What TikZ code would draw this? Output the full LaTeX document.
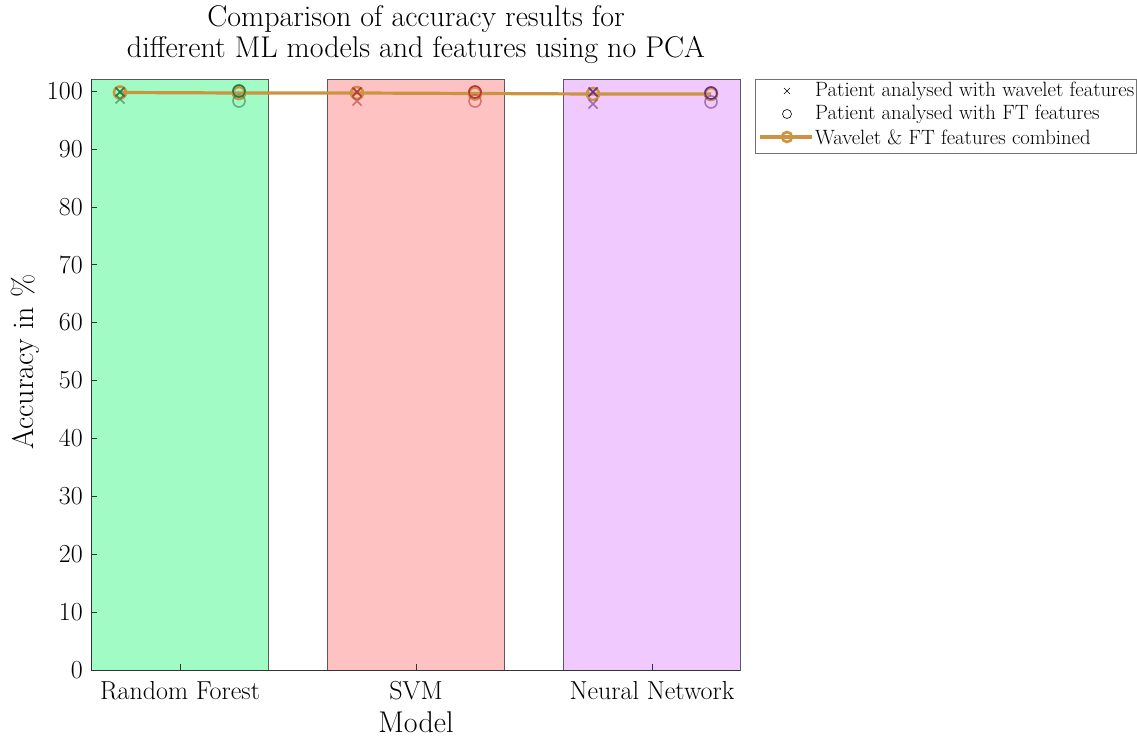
\documentclass[tikz,border=0pt]{standalone}
\usepackage{fontspec}
\definecolor{rfbar}{RGB}{160,251,197}
\definecolor{svmbar}{RGB}{255,194,194}
\definecolor{nnbar}{RGB}{240,202,255}
\definecolor{rfmk}{RGB}{30,125,65}
\definecolor{svmmk}{RGB}{185,50,60}
\definecolor{nnmk}{RGB}{105,45,135}
\definecolor{comb}{RGB}{204,148,64}
\tikzset{
  bar/.style={draw=black!65, line width=0.5pt},
  axis/.style={draw=black!80, line width=0.7pt},
  tickl/.style={font=\fontsize{26}{30}\selectfont, inner sep=0pt},
  axlab/.style={font=\fontsize{30}{31}\selectfont, inner sep=0pt},
  legtxt/.style={font=\fontsize{20.7}{24}\selectfont, anchor=west, inner sep=0pt},
  xmk/.style={line width=1.6pt},
  omk/.style={line width=1.6pt},
  combline/.style={draw=comb, line width=3.2pt},
  combmk/.style={draw=comb, line width=2.6pt},
}
\newcommand{\xmark}[3]{% color, x, y
  \draw[xmk,#1] (#2-4.5,#3-4.5) -- (#2+4.5,#3+4.5) (#2-4.5,#3+4.5) -- (#2+4.5,#3-4.5);}
\begin{document}
\begin{tikzpicture}[x=1pt,y=-1pt]
\useasboundingbox (0,0) rectangle (1137,738);
% bars
\path[bar,fill=rfbar] (91,79) rectangle (268,670);
\path[bar,fill=svmbar] (327.5,79) rectangle (504,670);
\path[bar,fill=nnbar] (563,79) rectangle (740,670);
% axes
\draw[axis] (91,79) -- (91,670) -- (740,670);
\foreach \v [count=\i from 0] in {0,10,...,100} {
  \pgfmathsetmacro{\yy}{670-5.79*\v}
  \draw[axis,line width=0.5pt] (91,\yy) -- (97,\yy);
  \node[tickl,anchor=east] (yt\i) at (83,\yy) {\v};
}
\foreach \xx/\lab/\nm in {180/Random Forest/rf,416/SVM/svm,652/Neural Network/nn} {
  \draw[axis,line width=0.5pt] (\xx,670) -- (\xx,664);
  \node[tickl] (xt\nm) at (\xx,691) {\lab};
}
\node[axlab] (xlabel) at (416,722) {Model};
\node[axlab,rotate=90] (ylabel) at (25,362) {Accuracy in \%};
\node[axlab,align=center] (title) at (416,35)
  {Comparison of accuracy results for\\different ML models and features using no PCA};
% combined line
\draw[combline] (120,92.5) coordinate (c1) -- (239,93) coordinate (c2) -- (357,93) coordinate (c3)
  -- (475,93.5) coordinate (c4) -- (593,94) coordinate (c5) -- (711,94) coordinate (c6);
\foreach \c in {c1,c2,c3,c4,c5,c6} \draw[combmk] (\c) circle (6);
% RF markers
\xmark{rfmk}{120}{92}
\xmark{rfmk,opacity=0.6}{120}{99}
\draw[omk,rfmk] (239,91) circle (6);
\draw[omk,rfmk,opacity=0.55] (239,101) circle (6);
% SVM
\xmark{svmmk}{357}{92}
\xmark{svmmk,opacity=0.6}{357}{101}
\draw[omk,svmmk] (475,92) circle (6);
\draw[omk,svmmk,opacity=0.55] (475,101) circle (6);
% NN
\xmark{nnmk}{593}{92}
\xmark{nnmk,opacity=0.6}{593}{104}
\draw[omk,nnmk] (711,93) circle (6);
\draw[omk,nnmk,opacity=0.55] (711,102) circle (6);
% legend
\draw[draw=black!55,line width=0.8pt,fill=white] (755,79) rectangle (1136.5,153);
\draw[line width=0.6pt] (784,88) -- (790,94) (784,94) -- (790,88);
\draw[line width=0.6pt] (787,114) circle (4.5);
\draw[combline] (760,137) -- (812,137);
\draw[combmk] (787,137) circle (5);
\node[legtxt] (l1) at (815,91) {Patient analysed with wavelet features};
\node[legtxt] (l2) at (815,114) {Patient analysed with FT features};
\node[legtxt] (l3) at (815,137) {Wavelet \& FT features combined};
\end{tikzpicture}
\end{document}
